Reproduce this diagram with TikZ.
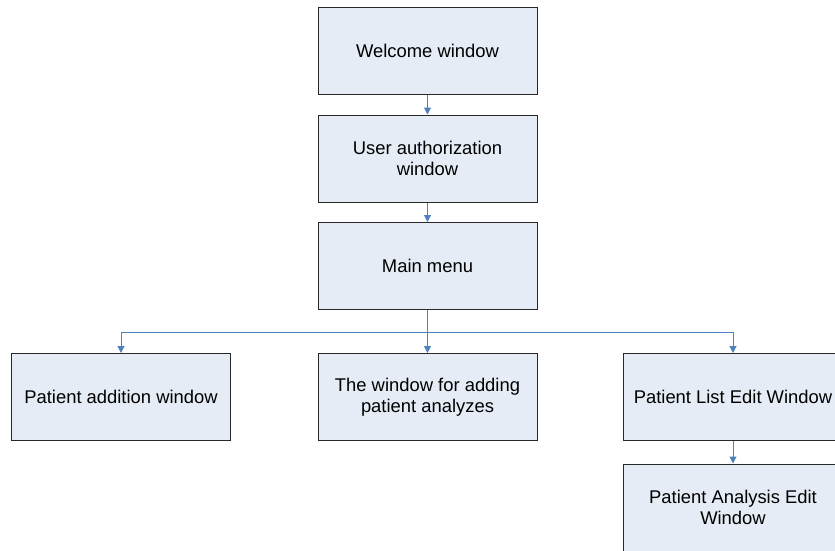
\documentclass[tikz,border=0pt]{standalone}
\usepackage{fontspec}
\setmainfont{Liberation Sans}
\usetikzlibrary{arrows.meta}

\definecolor{boxfill}{RGB}{230,236,246}
\definecolor{linkblue}{RGB}{79,129,189}
\definecolor{boxline}{RGB}{40,40,40}

\tikzset{
    winbox/.style={draw=boxline, fill=boxfill, line width=1pt,
        minimum width=219pt, minimum height=87pt, align=center,
        font=\fontsize{18.4}{21}\selectfont},
    link/.style={draw=linkblue, line width=1pt,
        -{Triangle[length=7pt,width=7pt]}}
}

\begin{document}
\begin{tikzpicture}[x=1pt,y=-1pt]
    \clip (0,0) rectangle (835,550);
    \useasboundingbox (0,0) rectangle (835,550);

    % top column
    \node[winbox] (welcome) at (427.5,50.5)  {Welcome window};
    \node[winbox] (auth)    at (427.5,158.5) {User authorization\\window};
    \node[winbox] (menu)    at (427.5,266)   {Main menu};

    % second level
    \node[winbox] (addp)  at (121,397)   {Patient addition window};
    \node[winbox] (anal)  at (427.5,397) {The window for adding\\patient analyzes};
    \node[winbox] (plist) at (733,397)   {Patient List Edit Window};
    \node[winbox] (pedit) at (733,507.5) {Patient Analysis Edit\\Window};

    \coordinate (bus) at (427.5,332);

    \draw[link] (welcome) -- (auth);
    \draw[link] (auth) -- (menu);
    \draw[link] (menu.south) -- (anal.north);
    \draw[link] (bus) -| (addp.north);
    \draw[link] (bus) -| (plist.north);
    \draw[link] (plist) -- (pedit);
\end{tikzpicture}
\end{document}
